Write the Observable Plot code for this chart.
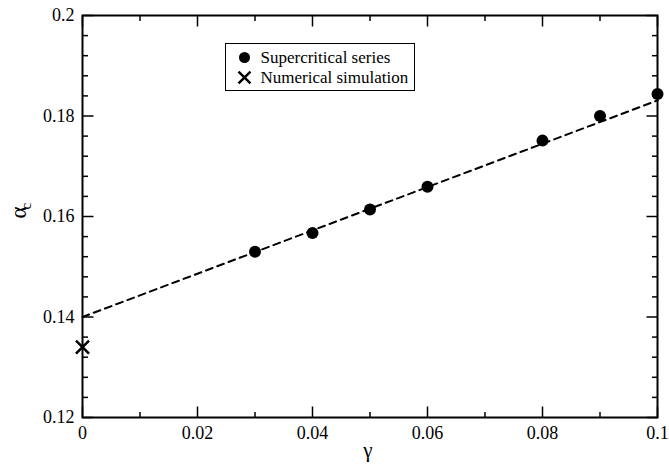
<!DOCTYPE html>
<html><head><meta charset="utf-8">
<script src="https://cdn.jsdelivr.net/npm/d3@7"></script>
<script src="https://cdn.jsdelivr.net/npm/@observablehq/plot@0.6"></script>
<style>html,body{margin:0;padding:0;background:#fff} svg{display:block} svg text{font-family:"Liberation Serif","Times New Roman",serif !important}</style>
</head><body><div id="chart"></div>
<script>
// Supercritical series
const gamma = [0.03, 0.04, 0.05, 0.06, 0.08, 0.09, 0.1];
const alphaC = [0.1530, 0.1567, 0.1614, 0.1659, 0.1751, 0.1800, 0.1844];
// Numerical simulation
const simGamma = [0];
const simAlpha = [0.134];
// Dashed fit line end points
const fitGamma = [0, 0.1];
const fitAlpha = [0.1400, 0.1831];
// Ticks
const xTicks = [0, 0.02, 0.04, 0.06, 0.08, 0.1];
const xTickLabels = ["0", "0.02", "0.04", "0.06", "0.08", "0.1"];
const yTicks = [0.12, 0.14, 0.16, 0.18, 0.2];
const yTickLabels = ["0.12", "0.14", "0.16", "0.18", "0.2"];
const xMinor = [0.01, 0.03, 0.05, 0.07, 0.09];
const yMinor = d3.range(0, 20).filter(i => i % 5 !== 0).map(i => 0.12 + i * 0.004);
const legendLabels = ["Supercritical series", "Numerical simulation"];

const series = gamma.map((g, i) => ({g, a: alphaC[i]}));
const sim = simGamma.map((g, i) => ({g, a: simAlpha[i]}));
const fit = fitGamma.map((g, i) => ({g, a: fitAlpha[i]}));

const FF = "Liberation Serif";
const tickStyle = {stroke: "black", strokeWidth: 1.5, r: 0, anchor: "start", strokeLinecap: "butt"};
const MAJ = 11, MIN = 5.5;
const T = {fontFamily: FF, fill: "black"};

const chart = Plot.plot({
  width: 669,
  height: 466,
  marginLeft: 82,
  marginRight: 12,
  marginTop: 15,
  marginBottom: 49,
  style: {fontFamily: FF, background: "white", color: "black"},
  x: {domain: [0, 0.1], axis: null},
  y: {domain: [0.12, 0.2], axis: null},
  marks: [
    // ticks (inward, on all four sides)
    Plot.vector(xTicks, {x: d => d, frameAnchor: "bottom", rotate: 0, length: MAJ, ...tickStyle}),
    Plot.vector(xMinor, {x: d => d, frameAnchor: "bottom", rotate: 0, length: MIN, ...tickStyle}),
    Plot.vector(xTicks, {x: d => d, frameAnchor: "top", rotate: 180, length: MAJ, ...tickStyle}),
    Plot.vector(xMinor, {x: d => d, frameAnchor: "top", rotate: 180, length: MIN, ...tickStyle}),
    Plot.vector(yTicks, {y: d => d, frameAnchor: "left", rotate: 90, length: MAJ, ...tickStyle}),
    Plot.vector(yMinor, {y: d => d, frameAnchor: "left", rotate: 90, length: MIN, ...tickStyle}),
    Plot.vector(yTicks, {y: d => d, frameAnchor: "right", rotate: 270, length: MAJ, ...tickStyle}),
    Plot.vector(yMinor, {y: d => d, frameAnchor: "right", rotate: 270, length: MIN, ...tickStyle}),
    Plot.frame({stroke: "black", strokeWidth: 2}),
    // tick labels
    Plot.text(xTicks, {x: d => d, frameAnchor: "bottom", dy: 16, text: (d, i) => xTickLabels[i], fontSize: 18, lineAnchor: "middle", ...T}),
    Plot.text(yTicks, {y: d => d, frameAnchor: "left", dx: -8, textAnchor: "end", text: (d, i) => yTickLabels[i], fontSize: 18, ...T}),
    // axis titles
    Plot.text(["γ"], {frameAnchor: "bottom", dy: 39, dx: -2, text: d => d, fontSize: 21, ...T}),
    Plot.text(["α"], {frameAnchor: "left", dx: -64, dy: 2, rotate: -90, text: d => d, fontSize: 23, ...T}),
    Plot.text(["c"], {frameAnchor: "left", dx: -56, dy: -7, rotate: -90, text: d => d, fontSize: 15, ...T}),
    // data
    Plot.line(fit, {x: "g", y: "a", stroke: "black", strokeWidth: 2, strokeDasharray: "7,5"}),
    Plot.dot(series, {x: "g", y: "a", r: 6, fill: "black", stroke: "none"}),
    Plot.dot(sim, {x: "g", y: "a", symbol: "times", r: 6, stroke: "black", strokeWidth: 2.5}),
    // legend
    Plot.frame({insetLeft: 143, insetRight: 243, insetTop: 28, insetBottom: 327, stroke: "black", strokeWidth: 1, fill: "white"}),
    Plot.dot([0], {frameAnchor: "top-left", dx: 162, dy: 42, r: 5.5, fill: "black", stroke: "none"}),
    Plot.dot([0], {frameAnchor: "top-left", dx: 162, dy: 62, symbol: "times", r: 5.5, stroke: "black", strokeWidth: 2.5}),
    Plot.text([legendLabels[0]], {frameAnchor: "top-left", dx: 178, dy: 42, text: d => d, textAnchor: "start", lineAnchor: "middle", fontSize: 17, ...T}),
    Plot.text([legendLabels[1]], {frameAnchor: "top-left", dx: 178, dy: 62, text: d => d, textAnchor: "start", lineAnchor: "middle", fontSize: 17, ...T}),
  ]
});
document.getElementById("chart").appendChild(chart);
</script>
</body></html>
